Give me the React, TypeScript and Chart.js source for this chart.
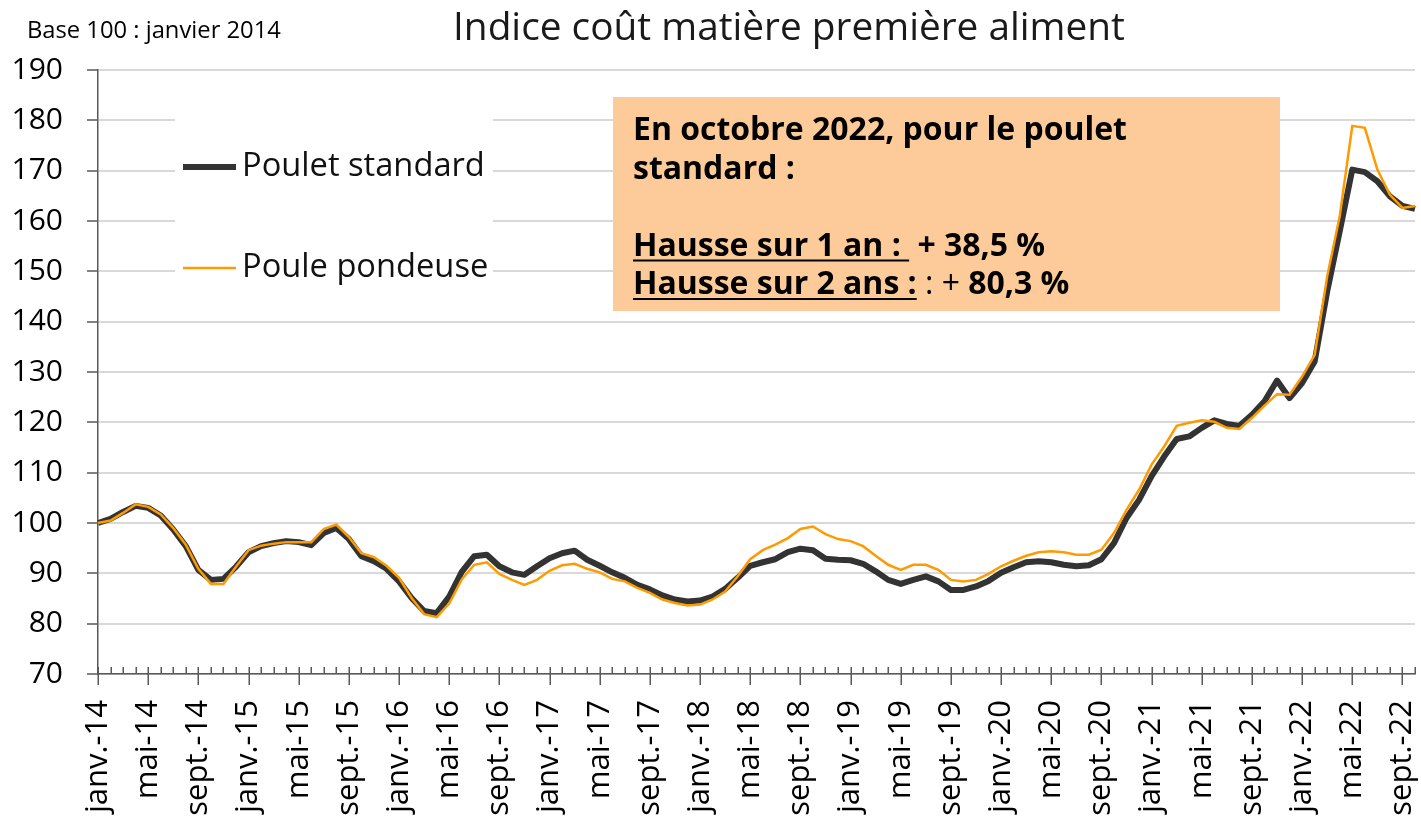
import React, { useEffect, useRef } from "react";
import { Chart, registerables } from "chart.js";

Chart.register(...registerables);

const FAMILY = "'Open Sans', sans-serif";

const MONTH_NAMES = ["janv.", "févr.", "mars", "avr.", "mai", "juin", "juil.", "août", "sept.", "oct.", "nov.", "déc."];
const YEARS = ["14", "15", "16", "17", "18", "19", "20", "21", "22"];
const LAST_MONTH_COUNT = 10; // jusqu'à octobre 2022

const labels: string[] = [];
YEARS.forEach((y, yi) => {
  const n = yi === YEARS.length - 1 ? LAST_MONTH_COUNT : 12;
  for (let m = 0; m < n; m++) labels.push(`${MONTH_NAMES[m]}-${y}`);
});

const TITLE = "Indice coût matière première aliment";
const SUBTITLE = "Base 100 : janvier 2014";
const SERIES_NAMES = ["Poulet standard", "Poule pondeuse"];

const pouletStandard = [
  100, 100.8, 102.2, 103.4, 103, 101.5, 98.7, 95.4, 90.7, 88.7, 88.9, 91.3,
  94.2, 95.4, 96, 96.4, 96.2, 95.6, 98, 99, 96.8, 93.4, 92.4, 90.9,
  88.4, 85.1, 82.5, 82.1, 85.4, 90.3, 93.4, 93.7, 91.4, 90.2, 89.7, 91.4,
  93, 94, 94.5, 92.7, 91.5, 90.2, 89.1, 87.7, 86.8, 85.6, 84.8, 84.4,
  84.6, 85.4, 86.9, 89.1, 91.5, 92.2, 92.8, 94.2, 94.9, 94.6, 92.9, 92.7,
  92.6, 91.9, 90.4, 88.7, 87.9, 88.7, 89.4, 88.4, 86.7, 86.7, 87.4, 88.5,
  90.1, 91.2, 92.2, 92.4, 92.2, 91.7, 91.4, 91.6, 92.8, 96, 101, 104.6,
  109.3, 113.2, 116.7, 117.2, 118.9, 120.4, 119.7, 119.3, 121.5, 124.2, 128.3, 124.8,
  127.8, 132.1, 146, 158, 170.2, 169.7, 167.9, 164.9, 163, 162.4,
];

const poulePondeuse = [
  100, 100.5, 102, 103.7, 103.2, 101.7, 99, 95.7, 90.9, 87.9, 87.9, 91.3,
  94.6, 95.5, 95.9, 96.2, 96.2, 96.2, 98.8, 99.7, 97.2, 94, 93.2, 91.5,
  89.1, 85.1, 81.9, 81.3, 84, 88.8, 91.7, 92.2, 89.9, 88.7, 87.7, 88.7,
  90.5, 91.6, 91.9, 90.9, 90.2, 88.9, 88.4, 87.1, 86.1, 84.8, 84.1, 83.6,
  83.8, 84.8, 86.4, 89.4, 92.8, 94.6, 95.7, 97, 98.8, 99.3, 97.8, 96.8,
  96.4, 95.4, 93.5, 91.7, 90.7, 91.7, 91.7, 90.7, 88.7, 88.4, 88.7, 89.9,
  91.4, 92.5, 93.5, 94.2, 94.4, 94.2, 93.7, 93.7, 94.7, 98, 102.6, 106.6,
  111.6, 115.2, 119.3, 119.9, 120.4, 120.1, 118.9, 118.7, 120.9, 123.3, 125.6, 125.5,
  129.1, 133.4, 149, 161, 178.9, 178.5, 170.2, 165.2, 162.6, 163,
];

const Y_MIN = 70;
const Y_MAX = 190;
const Y_STEP = 10;
const LABEL_EVERY = 4;

const BOX_LINES: { text: string; bold: boolean; underline?: boolean }[][] = [
  [{ text: "En octobre 2022, pour le poulet", bold: true }],
  [{ text: "standard :", bold: true }],
  [],
  [
    { text: "Hausse sur 1 an : ", bold: true, underline: true },
    { text: " ", bold: false },
    { text: "+ 38,5 %", bold: true },
  ],
  [
    { text: "Hausse sur 2 ans :", bold: true, underline: true },
    { text: " : + ", bold: false },
    { text: "80,3 %", bold: true },
  ],
];

const BLACK = "#333333";
const ORANGE = "#FF9A00";
const AXIS = "#595959";

function fitSize(ctx: CanvasRenderingContext2D, text: string, weight: string, target: number) {
  ctx.font = `${weight} 40px ${FAMILY}`;
  const w = ctx.measureText(text).width;
  return (40 * target) / w;
}

const decorPlugin = {
  id: "decor",
  beforeDatasetsDraw(chart: any) {
    const ctx: CanvasRenderingContext2D = chart.ctx;
    ctx.save();
    // legend
    ctx.fillStyle = "#ffffff";
    ctx.fillRect(175, 104, 318, 200);
    ctx.lineCap = "butt";
    ctx.strokeStyle = BLACK;
    ctx.lineWidth = 6;
    ctx.beginPath();
    ctx.moveTo(183, 167);
    ctx.lineTo(236, 167);
    ctx.stroke();
    ctx.strokeStyle = ORANGE;
    ctx.lineWidth = 2.5;
    ctx.beginPath();
    ctx.moveTo(183, 268);
    ctx.lineTo(236, 268);
    ctx.stroke();
    const ls = fitSize(ctx, SERIES_NAMES[0], "400", 243);
    ctx.font = `400 ${ls}px ${FAMILY}`;
    ctx.fillStyle = "#111";
    ctx.textBaseline = "middle";
    ctx.textAlign = "left";
    ctx.fillText(SERIES_NAMES[0], 242, 167);
    ctx.fillText(SERIES_NAMES[1], 242, 268);

    // annotation box
    ctx.fillStyle = "#FDCA99";
    ctx.fillRect(613, 97, 667, 214);
    const bs = fitSize(ctx, BOX_LINES[0][0].text, "700", 494);
    ctx.textBaseline = "alphabetic";
    ctx.fillStyle = "#000";
    const baseY = 140;
    const lh = 38.5;
    BOX_LINES.forEach((runs, li) => {
      let x = 633;
      const y = baseY + li * lh;
      runs.forEach((r) => {
        ctx.font = `${r.bold ? 700 : 400} ${bs}px ${FAMILY}`;
        const w = ctx.measureText(r.text).width;
        ctx.fillText(r.text, x, y);
        if (r.underline) {
          ctx.fillRect(x, y + 4, w, 2);
        }
        x += w;
      });
    });
    ctx.restore();
  },
  afterDraw(chart: any) {
    const ctx: CanvasRenderingContext2D = chart.ctx;
    ctx.save();
    // titles
    ctx.fillStyle = "#1a1a1a";
    ctx.textAlign = "left";
    ctx.textBaseline = "alphabetic";
    const ts = fitSize(ctx, TITLE, "400", 672);
    ctx.font = `400 ${ts}px ${FAMILY}`;
    ctx.fillText(TITLE, 453, 40);
    const ss = fitSize(ctx, SUBTITLE, "400", 254);
    ctx.font = `400 ${ss}px ${FAMILY}`;
    ctx.fillStyle = "#000";
    ctx.fillText(SUBTITLE, 27, 38);

    // x tick marks
    const xs = chart.scales.x;
    const bottom = chart.chartArea.bottom;
    ctx.strokeStyle = AXIS;
    ctx.lineWidth = 1.5;
    ctx.beginPath();
    for (let i = 0; i < labels.length; i++) {
      const x = Math.round(xs.getPixelForValue(i)) + 0.25;
      const major = i % LABEL_EVERY === 0;
      ctx.moveTo(x, bottom - 7);
      ctx.lineTo(x, major ? bottom + 11 : bottom);
    }
    ctx.stroke();
    ctx.restore();
  },
};

export default function App() {
  const ref = useRef<HTMLCanvasElement>(null);
  useEffect(() => {
    if (!ref.current) return;
    const chart = new Chart(ref.current, {
      type: "line",
      data: {
        labels,
        datasets: [
          {
            label: SERIES_NAMES[0],
            data: pouletStandard,
            borderColor: BLACK,
            backgroundColor: BLACK,
            borderWidth: 6,
            pointRadius: 0,
            tension: 0,
            order: 2,
            borderJoinStyle: "round",
          },
          {
            label: SERIES_NAMES[1],
            data: poulePondeuse,
            borderColor: ORANGE,
            backgroundColor: ORANGE,
            borderWidth: 2.5,
            pointRadius: 0,
            tension: 0,
            order: 1,
          },
        ],
      },
      options: {
        animation: false,
        responsive: false,
        maintainAspectRatio: false,
        devicePixelRatio: 1,
        layout: { padding: { top: 70, right: 6, left: 0, bottom: 0 } },
        plugins: {
          legend: { display: false },
          title: { display: false },
          tooltip: { enabled: false },
        },
        scales: {
          x: {
            type: "category",
            offset: false,
            grid: { display: false, drawTicks: false },
            border: { display: true, color: AXIS, width: 1.5 },
            ticks: {
              autoSkip: false,
              maxRotation: 90,
              minRotation: 90,
              padding: 26,
              color: "#000",
              font: { size: 31, family: FAMILY },
              callback: (_v: any, i: number) => (i % LABEL_EVERY === 0 ? labels[i] : ""),
            },
            afterFit: (s: any) => {
              s.height = 148;
              s.paddingLeft = 0;
              s.paddingRight = 0;
            },
          },
          y: {
            min: Y_MIN,
            max: Y_MAX,
            ticks: { stepSize: Y_STEP, padding: 24, color: "#000", font: { size: 30, family: FAMILY } },
            grid: {
              color: "#d9d9d9",
              lineWidth: 2,
              drawTicks: true,
              tickLength: 11,
              tickColor: AXIS,
              tickWidth: 1.5,
            },
            border: { color: AXIS, width: 1.5 },
            afterFit: (s: any) => {
              s.width = 98;
            },
          },
        },
      },
      plugins: [decorPlugin],
    } as any);
    return () => chart.destroy();
  }, []);
  return (
    <div style={{ position: "absolute", left: 0, top: 0, width: 1421, height: 822, background: "#fff" }}>
      <canvas ref={ref} width={1421} height={822} style={{ display: "block" }} />
    </div>
  );
}
